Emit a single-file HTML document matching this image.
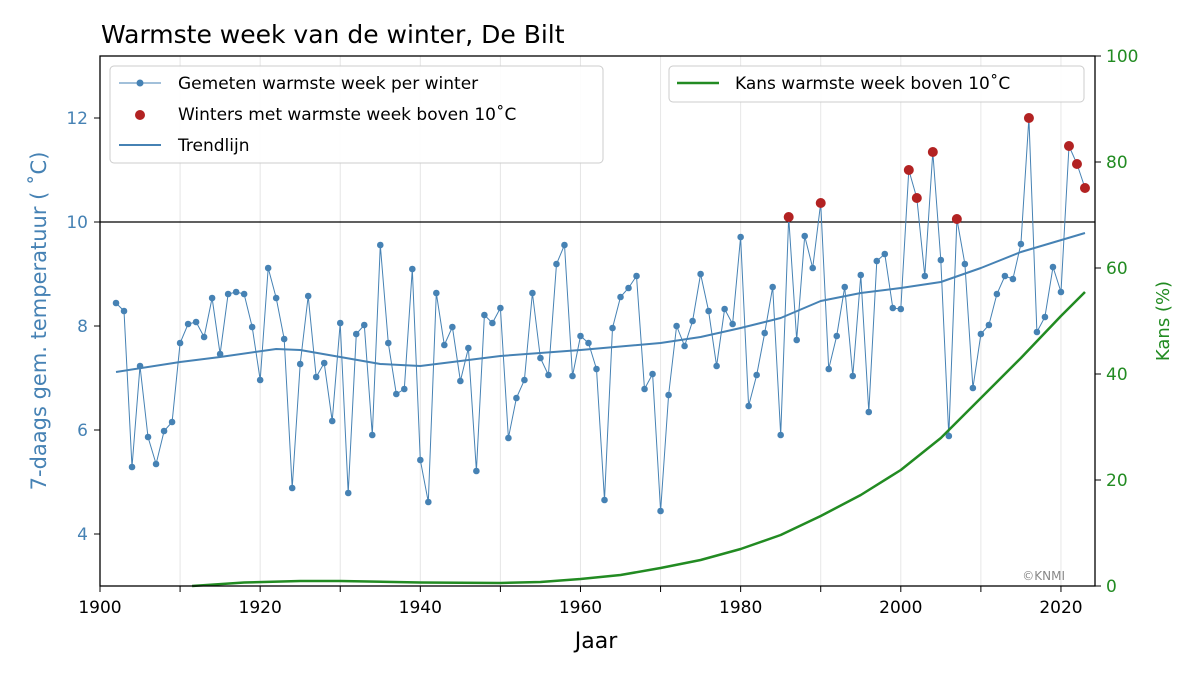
<!DOCTYPE html>
<html><head><meta charset="utf-8"><style>
html,body{margin:0;padding:0;background:#fff;}
svg{display:block;font-family:"DejaVu Sans","Liberation Sans",sans-serif;}
</style></head><body>
<svg id="s" width="1200" height="675" xmlns="http://www.w3.org/2000/svg">
<rect width="1200" height="675" fill="#fff"/>
<text x="101" y="43" font-size="25" fill="#000">Warmste week van de winter, De Bilt</text>
<g id="grid" stroke="#e6e6e6" stroke-width="1"></g>
<line x1="100" y1="222" x2="1095" y2="222" stroke="#000" stroke-width="1.3"/>
<g id="series"></g>
<rect x="100" y="56" width="995" height="530" fill="none" stroke="#000" stroke-width="1.3"/>
<g id="ticks" font-size="17"></g>
<text x="596" y="648" font-size="22" text-anchor="middle">Jaar</text>
<text transform="translate(46,321) rotate(-90)" font-size="21" fill="#4682b4" text-anchor="middle">7-daags gem. temperatuur ( ˚C)</text>
<text transform="translate(1169,321) rotate(-90)" font-size="18" fill="#228b22" text-anchor="middle">Kans (%)</text>
<text x="1065" y="580" font-size="12" fill="#888" text-anchor="end">©KNMI</text>
<g font-size="17">
<rect x="110" y="66" width="493" height="97" rx="4" fill="#fff" fill-opacity="0.9" stroke="#ccc"/>
<line x1="119" y1="83" x2="161" y2="83" stroke="#4682b4" stroke-width="1"/><circle cx="140" cy="83" r="3.5" fill="#4682b4"/>
<text x="178" y="89">Gemeten warmste week per winter</text>
<circle cx="140" cy="115" r="5" fill="#b22222"/>
<text x="178" y="120">Winters met warmste week boven 10˚C</text>
<line x1="119" y1="145" x2="161" y2="145" stroke="#4682b4" stroke-width="2"/>
<text x="178" y="151">Trendlijn</text>
<rect x="669" y="66" width="415" height="36" rx="4" fill="#fff" fill-opacity="0.9" stroke="#ccc"/>
<line x1="677" y1="83" x2="719" y2="83" stroke="#228b22" stroke-width="2.5"/>
<text x="735" y="89">Kans warmste week boven 10˚C</text>
</g>
</svg>
<script>
const X=y=>100+(y-1900)*8.008;
const ys=[303,311,467,366,437,464,431,422,343,324,322,337,298,354,294,292,294,327,380,268,298,339,488,364,296,377,363,421,323,493,334,325,435,245,343,394,389,269,460,502,293,345,327,381,348,471,315,323,308,438,398,380,293,358,375,264,245,376,336,343,369,500,328,297,288,276,389,374,511,395,326,346,321,274,311,366,309,324,237,406,375,333,287,435,217,340,236,268,203,369,336,287,376,275,412,261,254,308,309,170,198,276,152,260,436,219,264,388,334,325,294,276,279,244,118,332,317,267,292,146,164,188];
const red=[1986,1990,2001,2002,2004,2007,2016,2021,2022,2023];
let g='',gr='',tk='';
for(let y=1900;y<=2020;y+=10){const x=X(y);if(y>1900)gr+=`<line x1="${x}" y1="56" x2="${x}" y2="586"/>`;tk+=`<line x1="${x}" y1="586" x2="${x}" y2="592" stroke="#000"/>`;if(y%20==0)tk+=`<text x="${x}" y="613" text-anchor="middle">${y}</text>`;}
[4,6,8,10,12].forEach(v=>{const y=534-(v-4)*52;tk+=`<line x1="94" y1="${y}" x2="100" y2="${y}" stroke="#000"/><text x="88" y="${y+6}" text-anchor="end" fill="#4682b4">${v}</text>`;});
for(let p=0;p<=100;p+=20){const y=586-p*5.3;tk+=`<line x1="1095" y1="${y}" x2="1101" y2="${y}" stroke="#000"/><text x="1106" y="${y+6}" fill="#228b22">${p}</text>`;}
let pts=ys.map((v,i)=>X(1902+i).toFixed(1)+','+v).join(' ');
g+=`<polyline points="${pts}" fill="none" stroke="#4682b4" stroke-width="1"/>`;
ys.forEach((v,i)=>{const yr=1902+i;if(!red.includes(yr))g+=`<circle cx="${X(yr)}" cy="${v}" r="3.3" fill="#4682b4"/>`;});
ys.forEach((v,i)=>{const yr=1902+i;if(red.includes(yr))g+=`<circle cx="${X(yr)}" cy="${v}" r="5" fill="#b22222"/>`;});
const tr=[[1902,372],[1910,362],[1915,357],[1922,349],[1925,350],[1930,357],[1935,364],[1940,366],[1945,361],[1950,356],[1960,350],[1970,343],[1975,337],[1980,328],[1985,318],[1990,301],[1995,293],[2000,288],[2005,282],[2010,268],[2015,252],[2023,233]];
g+=`<polyline points="${tr.map(p=>X(p[0])+','+p[1]).join(' ')}" fill="none" stroke="#4682b4" stroke-width="2" stroke-linejoin="round"/>`;
const gn=[[1911.5,586],[1918,582.5],[1925,581],[1930,581],[1940,582.5],[1950,583],[1955,582],[1960,579],[1965,575],[1970,568],[1975,560],[1980,549],[1985,535],[1990,516],[1995,495],[2000,470],[2005,438],[2010,398],[2015,358],[2020,316],[2023,292]];
g+=`<polyline points="${gn.map(p=>X(p[0])+','+p[1]).join(' ')}" fill="none" stroke="#228b22" stroke-width="2.5" stroke-linejoin="round"/>`;
document.getElementById('grid').innerHTML=gr;
document.getElementById('series').innerHTML=g;
document.getElementById('ticks').innerHTML=tk;
</script>
</body></html>
